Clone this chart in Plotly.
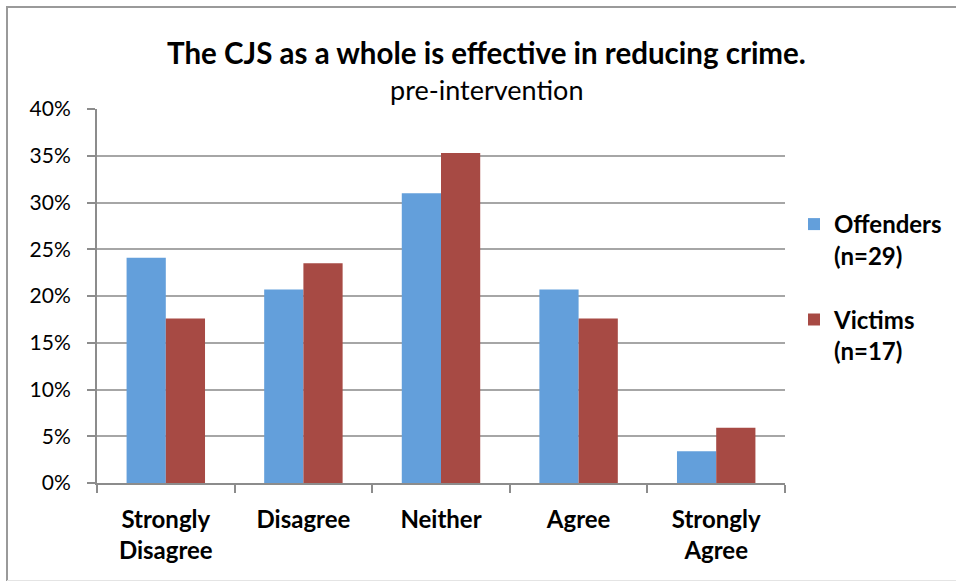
import plotly.graph_objects as go

categories = ["Strongly<br>Disagree", "Disagree", "Neither", "Agree", "Strongly<br>Agree"]
offenders = [0.241, 0.207, 0.310, 0.207, 0.034]
victims = [0.176, 0.235, 0.353, 0.176, 0.059]
series_names = ["Offenders<br>(n=29)", "Victims<br>(n=17)"]
y_ticks = [0, 0.05, 0.10, 0.15, 0.20, 0.25, 0.30, 0.35, 0.40]
y_ticklabels = ["0%", "5%", "10%", "15%", "20%", "25%", "30%", "35%", "40%"]

FONT = "Lato"
W, H = 956, 582
L, R, T, B = 97, 171, 109, 99
pw, ph = W - L - R, H - T - B

def px_x(x):
    return (x - L) / pw

def px_y(y):
    return (H - B - y) / ph

fig = go.Figure()
fig.add_trace(go.Bar(x=categories, y=offenders, name=series_names[0],
                     marker=dict(color="#639FDB", line=dict(width=0)),
                     legendgroup="a"))
fig.add_trace(go.Bar(x=categories, y=victims, name=series_names[1],
                     marker=dict(color="#A74A44", line=dict(width=0)),
                     legendgroup="b"))

frame = dict(xref="paper", yref="paper", type="line", layer="below")

fig.update_layout(
    width=W, height=H,
    margin=dict(l=L, r=R, t=T, b=B, pad=0, autoexpand=False),
    paper_bgcolor="white", plot_bgcolor="white",
    barmode="group", bargap=0.43, bargroupgap=0,
    font=dict(family=FONT, color="black", size=22),
    showlegend=True,
    legend=dict(x=px_x(794), y=px_y(202), xanchor="left", yanchor="top",
                font=dict(family=FONT, size=24, color="black", weight="bold"),
                valign="top", traceorder="grouped", tracegroupgap=30,
                itemwidth=30, bgcolor="rgba(0,0,0,0)"),
    xaxis=dict(showgrid=False, showline=True, linecolor="#8C8C8C", linewidth=2,
               ticks="outside", tickson="boundaries", ticklen=8, tickcolor="#8C8C8C",
               tickwidth=2, ticklabelstandoff=14,
               tickfont=dict(family=FONT, size=24, color="black", weight="bold"),
               fixedrange=True),
    yaxis=dict(range=[0, 0.4], tickvals=y_ticks, ticktext=y_ticklabels,
               showgrid=True, gridcolor="#A6A6A6", gridwidth=2,
               showline=True, linecolor="#8C8C8C", linewidth=2,
               ticks="outside", ticklen=8, tickcolor="#8C8C8C", tickwidth=2,
               ticklabelstandoff=12,
               tickfont=dict(family=FONT, size=21, color="black"),
               zeroline=False, fixedrange=True),
    annotations=[
        dict(text="<b>The CJS as a whole is effective in reducing crime.</b>",
             x=px_x(486), y=px_y(52), xref="paper", yref="paper",
             xanchor="center", yanchor="middle", showarrow=False,
             font=dict(family=FONT, size=29.5, color="black")),
        dict(text="pre-intervention",
             x=px_x(486), y=px_y(89), xref="paper", yref="paper",
             xanchor="center", yanchor="middle", showarrow=False,
             font=dict(family=FONT, size=27, color="black")),
    ],
    shapes=[
        dict(frame, x0=px_x(7), x1=px_x(7), y0=px_y(581), y1=px_y(6),
             line=dict(color="#9A9A9A", width=2)),
        dict(frame, x0=px_x(6), x1=px_x(956), y0=px_y(7), y1=px_y(7),
             line=dict(color="#9A9A9A", width=2)),
        dict(frame, x0=px_x(7), x1=px_x(956), y0=px_y(580.5), y1=px_y(580.5),
             line=dict(color="#E4E4E4", width=1)),
    ],
)

fig.write_html("out.html", config={"displayModeBar": False},
               post_script="document.body.style.margin='0';")
